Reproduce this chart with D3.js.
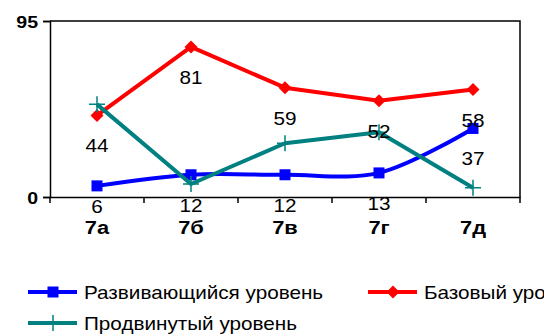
<!DOCTYPE html>
<html>
<head>
<meta charset="utf-8">
<script src="https://cdn.jsdelivr.net/npm/d3@7"></script>
<style>
  body { margin: 0; background: #fff; }
  svg { display: block; font-family: "Liberation Sans", Arial, sans-serif; }
</style>
</head>
<body>
<svg id="chart"></svg>
<script>
// chart data
const categories = ['7а', '7б', '7в', '7г', '7д'];
const developing = [6, 12, 12, 13, 37];
const basic = [44, 81, 59, 52, 58];
const advanced = [50, 7, 29, 35, 5];
const yTicks = [0, 95];

const seriesNames = ['Развивающийся уровень', 'Базовый уровень', 'Продвинутый уровень'];

const width = 544, height = 335;
const margin = { top: 21, right: 24, bottom: 138, left: 50 };
const sx = 1.15; // the original text is stretched horizontally

const svg = d3.select('#chart').attr('width', width).attr('height', height);

const x = d3.scaleBand().domain(categories).range([margin.left, width - margin.right]);
const y = d3.scaleLinear().domain([0, 95]).range([height - margin.bottom, margin.top]);
const cx = c => x(c) + x.bandwidth() / 2;

// stretched text helper
function label(g, tx, ty, txt, size, weight, anchor) {
  return g.append('text')
    .attr('transform', `translate(${tx},${ty}) scale(${sx},1)`)
    .attr('text-anchor', anchor || 'middle')
    .style('font-size', size + 'px')
    .style('font-weight', weight || 'normal')
    .attr('fill', '#000')
    .text(txt);
}

// frame: top and right border
svg.append('path')
  .attr('d', `M${margin.left},${margin.top}H${width - margin.right}V${height - margin.bottom}`)
  .attr('fill', 'none').attr('stroke', '#000').attr('stroke-width', 1.5);

// y axis
const yAxis = svg.append('g').attr('transform', `translate(${margin.left},0)`)
  .call(d3.axisLeft(y).tickValues(yTicks).tickSize(7).tickFormat(''));
yAxis.select('.domain').attr('stroke-width', 1.5);
yAxis.selectAll('.tick line').attr('stroke-width', 1.5);
yTicks.forEach(t => label(svg, margin.left - 12, y(t) + 7, t, 17, 'bold', 'end'));

// x axis with ticks between categories
const xAxis = svg.append('g').attr('transform', `translate(0,${y(0)})`)
  .call(d3.axisBottom(x).tickSize(0).tickFormat(''));
xAxis.select('.domain').attr('stroke-width', 1.5);
const bounds = categories.map(c => x(c)).concat([x(categories[categories.length - 1]) + x.bandwidth()]);
svg.append('g').selectAll('line').data(bounds).join('line')
  .attr('x1', d => d).attr('x2', d => d)
  .attr('y1', y(0)).attr('y2', y(0) + 6)
  .attr('stroke', '#000').attr('stroke-width', 1.5);
categories.forEach(c => label(svg, cx(c), y(0) + 37, c, 19, 'bold'));

// series
const series = [
  { name: seriesNames[0], values: developing, color: '#0000ff', marker: 'square', curve: d3.curveCatmullRom.alpha(0.5) },
  { name: seriesNames[1], values: basic, color: '#ff0000', marker: 'diamond', curve: d3.curveLinear },
  { name: seriesNames[2], values: advanced, color: '#008080', marker: 'plus', curve: d3.curveLinear }
];

function drawMarker(g, type, color, px, py) {
  if (type === 'square') {
    g.append('rect').attr('x', px - 5.5).attr('y', py - 5.5).attr('width', 11).attr('height', 11).attr('fill', color);
  } else if (type === 'diamond') {
    g.append('path').attr('d', `M${px},${py - 6.5}L${px + 6.5},${py}L${px},${py + 6.5}L${px - 6.5},${py}Z`).attr('fill', color);
  } else {
    g.append('path').attr('d', `M${px - 8},${py}H${px + 8}M${px},${py - 8}V${py + 8}`)
      .attr('stroke', color).attr('stroke-width', 1.5).attr('fill', 'none');
  }
}

const plot = svg.append('g');
series.forEach(s => {
  const line = d3.line().x((d, i) => cx(categories[i])).y(d => y(d)).curve(s.curve);
  plot.append('path').datum(s.values).attr('d', line)
    .attr('fill', 'none').attr('stroke', s.color).attr('stroke-width', 4).attr('stroke-linejoin', 'round');
  s.values.forEach((v, i) => drawMarker(plot, s.marker, s.color, cx(categories[i]), y(v)));
});

// data labels (developing and basic series)
const labels = svg.append('g');
developing.forEach((v, i) => label(labels, cx(categories[i]), Math.min(y(v) + 37, y(0) + 16), v, 18));
basic.forEach((v, i) => label(labels, cx(categories[i]), y(v) + 37, v, 18));

// legend
const legendPos = [[28, 292], [368, 292], [28, 323]];
series.forEach((s, i) => {
  const [lx, ly] = legendPos[i];
  const g = svg.append('g');
  g.append('line').attr('x1', lx).attr('x2', lx + 49).attr('y1', ly).attr('y2', ly)
    .attr('stroke', s.color).attr('stroke-width', 4);
  drawMarker(g, s.marker, s.color, lx + 25, ly);
  label(g, lx + 56, ly + 7, s.name, 18, 'normal', 'start');
});
</script>
</body>
</html>
